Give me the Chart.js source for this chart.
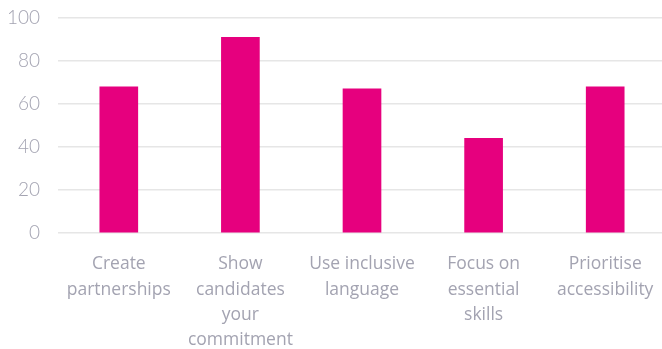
<!DOCTYPE html>
<html>
<head>
<meta charset="utf-8">
<script src="https://cdn.jsdelivr.net/npm/chart.js@4"></script>
<style>
  html, body { margin: 0; padding: 0; background: #fff; overflow: hidden; }
  #wrap { width: 666px; height: 349px; }
</style>
</head>
<body>
<div id="wrap"><canvas id="bar-graph"></canvas></div>
<script>
const categories = [
  ["Create", "partnerships"],
  ["Show", "candidates", "your", "commitment"],
  ["Use inclusive", "language"],
  ["Focus on", "essential", "skills"],
  ["Prioritise", "accessibility"],
];
const values = [68, 91, 67, 44, 68];
const yTicks = [0, 20, 40, 60, 80, 100];

const grey = "#a3a3b1";

new Chart(document.getElementById("bar-graph"), {
  type: "bar",
  data: {
    labels: categories,
    datasets: [
      {
        label: "Share",
        data: values,
        backgroundColor: "#e6007e",
        barThickness: 38,
      },
    ],
  },
  options: {
    responsive: true,
    maintainAspectRatio: false,
    animation: false,
    layout: { padding: { top: 18, left: 0, right: 0, bottom: 0 } },
    plugins: {
      legend: { display: false },
      tooltip: { enabled: false },
    },
    scales: {
      x: {
        grid: { display: false },
        border: { display: false },
        ticks: {
          color: grey,
          font: { family: "'Open Sans', 'Liberation Sans', sans-serif", size: 17.5, lineHeight: 1.43 },
          padding: 11,
          maxRotation: 0,
          autoSkip: false,
        },
        afterFit: (scale) => { scale.height = 116; },
      },
      y: {
        min: 0,
        max: 100,
        afterBuildTicks: (scale) => {
          scale.ticks = yTicks.map((v) => ({ value: v }));
        },
        grid: { color: "#e6e6e6", lineWidth: 1.5, drawTicks: false },
        border: { display: false },
        ticks: {
          color: grey,
          font: { family: "Lato, 'Open Sans', sans-serif", size: 19, weight: 300 },
          padding: 18,
        },
        afterFit: (scale) => {
          scale.width = 58;
          scale.paddingTop = 0;
          scale.paddingBottom = 0;
        },
      },
    },
  },
});
</script>
</body>
</html>
